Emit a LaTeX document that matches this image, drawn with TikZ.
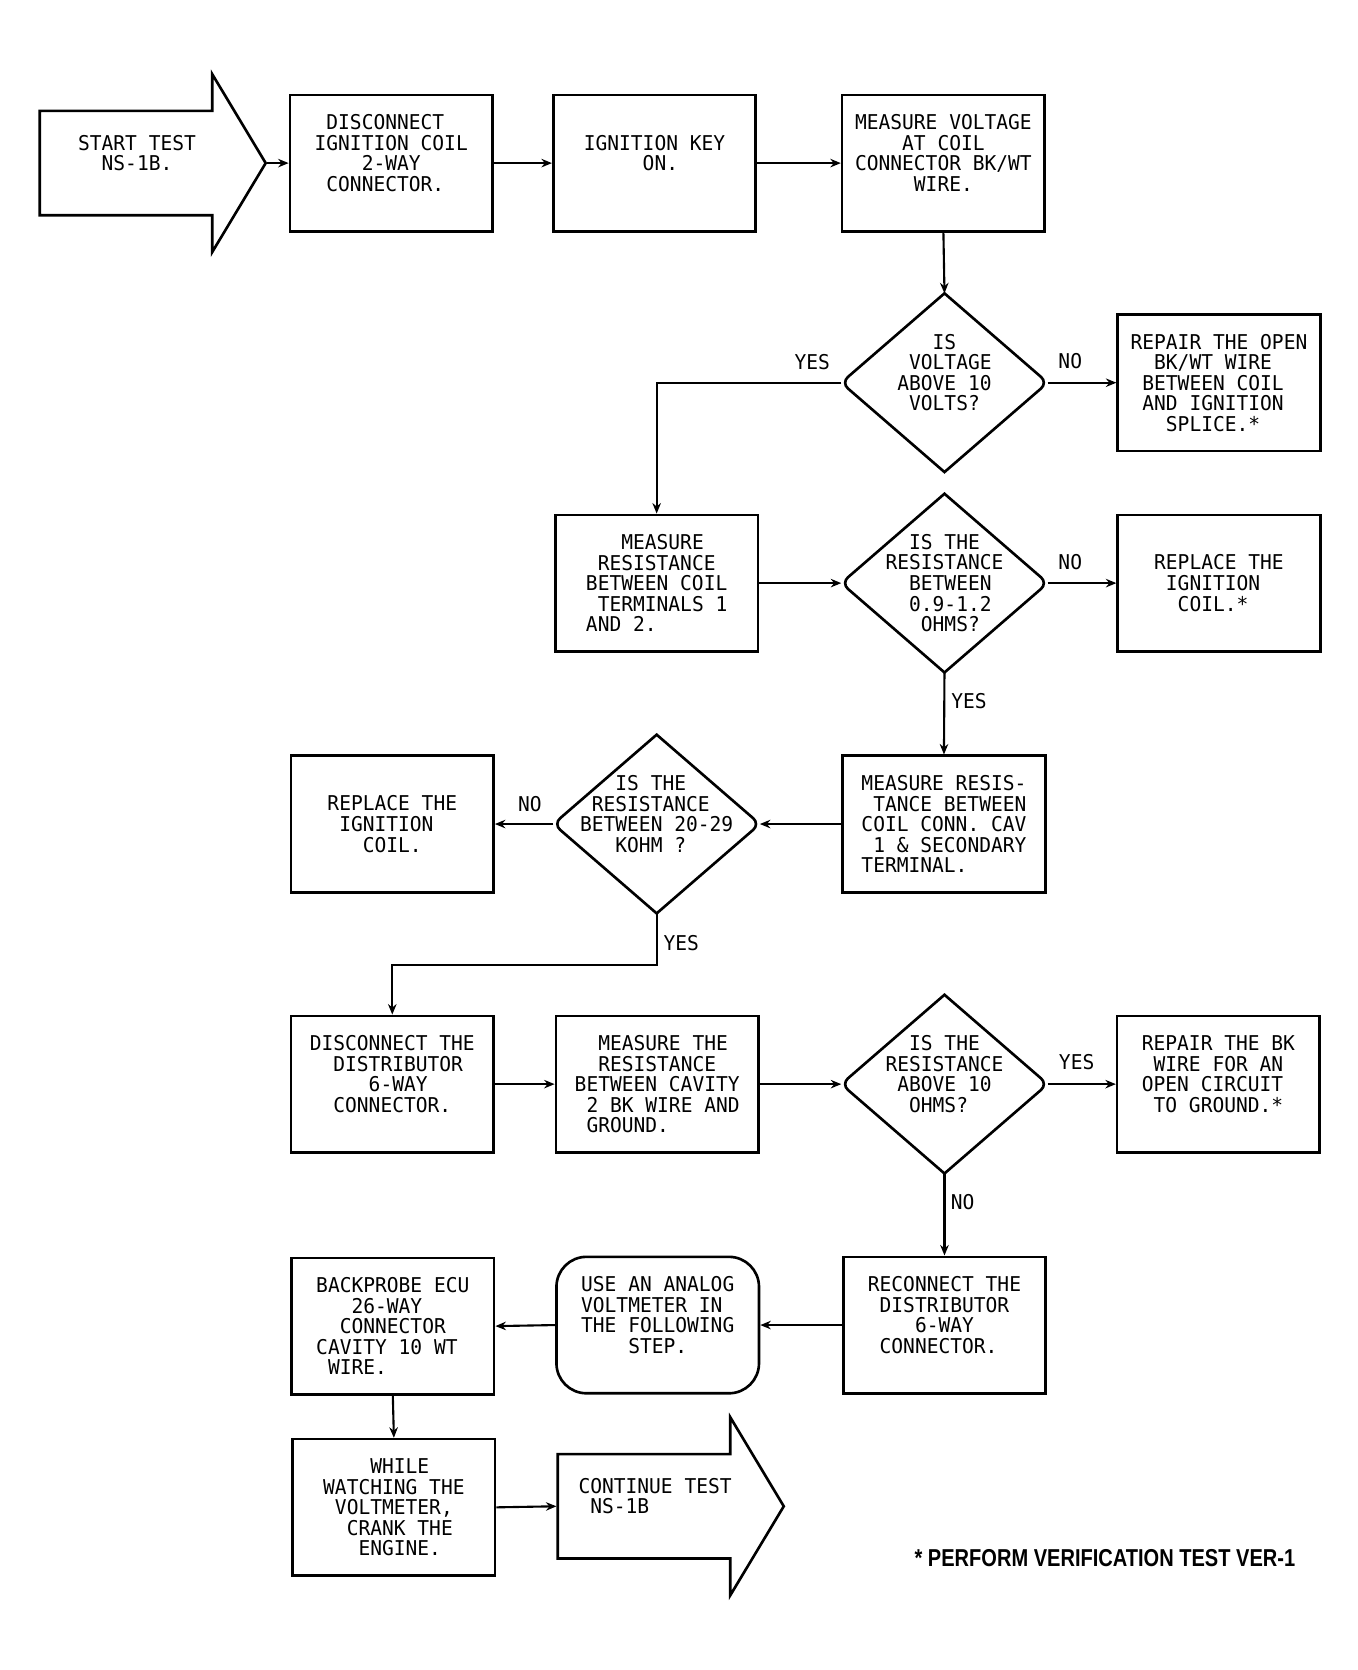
\documentclass[tikz,border=0pt]{standalone}
\usepackage{fontspec}
\usepackage{graphicx}
\usetikzlibrary{shapes.geometric,shapes.arrows,arrows.meta}
\newfontfamily\plotfont[FakeStretch=0.96]{DejaVu Sans Mono}
\newfontfamily\notefont{Liberation Sans}
\newlength{\pxu}\setlength{\pxu}{0.2132mm}

\tikzset{
  every node/.style={font=\plotfont\fontsize{11.6}{11.7}\selectfont},
  stepbox/.style={draw, line width=1.5pt, minimum width=190\pxu, minimum height=128\pxu, inner sep=0pt, align=left},
  decision/.style={diamond, minimum width=193\pxu, minimum height=167\pxu, inner sep=0pt},
  qtext/.style={align=left, inner sep=0pt},
  testarrow/.style={single arrow, draw, line width=1.5pt, minimum height=212\pxu, minimum width=167\pxu,
    single arrow head extend=19.5\pxu, single arrow tip angle=118, inner sep=0pt, align=left},
  flow/.style={line width=1.2pt, -{Stealth[length=2.1mm,width=1.7mm]}},
  answer/.style={inner sep=0pt}
}

\begin{document}
\begin{tikzpicture}[x=\pxu, y=-\pxu]
\useasboundingbox (0,0) rectangle (1273,1566.6);

	\node[testarrow, anchor=tail] (start) at (36,153) {START TEST\\~~NS-1B.\\~};
	\node[stepbox] (b1) at (367,153) {~DISCONNECT\\IGNITION COIL\\~~~~2-WAY\\~CONNECTOR.\\~};
	\node[stepbox] (b2) at (614,153) {IGNITION KEY\\~~~~~ON.\\~};
	\node[stepbox] (b3) at (885,153) {MEASURE VOLTAGE\\~~~~AT COIL\\CONNECTOR BK/WT\\~~~~~WIRE.\\~};

	\node[decision] (d1) at (886,359) {};
	\node[qtext] (d1t) at (d1) {~~~IS\\~VOLTAGE\\ABOVE 10\\~VOLTS?\\~};
	\node[stepbox] (r1) at (1143.5,359) {REPAIR THE OPEN\\~~BK/WT WIRE\\~BETWEEN COIL\\~AND IGNITION\\~~~SPLICE.*};

	\node[stepbox] (b4) at (616,547) {~~~MEASURE\\~RESISTANCE\\BETWEEN COIL\\~TERMINALS 1\\AND 2.};
	\node[decision] (d2) at (886,547) {};
	\node[qtext] (d2t) at (d2) {~~IS THE\\RESISTANCE\\~~BETWEEN\\~~0.9-1.2\\~~~OHMS?};
	\node[stepbox] (r2) at (1143.5,547) {REPLACE THE\\~IGNITION\\~~COIL.*};

	\node[stepbox] (b5) at (885.5,773) {MEASURE RESIS-\\~TANCE BETWEEN\\COIL CONN. CAV\\~1 \& SECONDARY\\TERMINAL.};
	\node[decision] (d3) at (616,773) {};
	\node[qtext] (d3t) at (d3) {~~~IS THE\\~RESISTANCE\\BETWEEN 20-29\\~~~KOHM ?\\~};
	\node[stepbox] (b6) at (368,773) {REPLACE THE\\~IGNITION\\~~~COIL.};

	\node[stepbox] (b7) at (368,1017) {DISCONNECT THE\\~~DISTRIBUTOR\\~~~~~6-WAY\\~~CONNECTOR.\\~};
	\node[stepbox] (b8) at (616.5,1017) {~~MEASURE THE\\~~RESISTANCE\\BETWEEN CAVITY\\~2 BK WIRE AND\\~GROUND.};
	\node[decision] (d4) at (886,1017) {};
	\node[qtext] (d4t) at (d4) {~~IS THE\\RESISTANCE\\~ABOVE 10\\~~OHMS?\\~};
	\node[stepbox] (r3) at (1143,1017) {REPAIR THE BK\\~WIRE FOR AN\\OPEN CIRCUIT\\~TO GROUND.*\\~};

	\node[stepbox] (b9) at (886,1243) {RECONNECT THE\\~DISTRIBUTOR\\~~~~6-WAY\\~CONNECTOR.\\~};
	\node[stepbox, rounded corners=6mm] (b10) at (617,1243) {USE AN ANALOG\\VOLTMETER IN\\THE FOLLOWING\\~~~~STEP.\\~};
	\node[stepbox] (b11) at (368.5,1244) {BACKPROBE ECU\\~~~26-WAY\\~~CONNECTOR\\CAVITY 10 WT\\~WIRE.};
	\node[stepbox] (b12) at (369.5,1414) {~~~~WHILE\\WATCHING THE\\~VOLTMETER,\\~~CRANK THE\\~~~ENGINE.};
	\node[testarrow, anchor=tail] (cont) at (522,1413) {CONTINUE TEST\\~NS-1B\\~};

	% decision outlines, pointed at top and bottom
	\foreach \d in {d1,d2,d3,d4}
	  \draw[line width=1.5pt] (\d.north) [rounded corners=5pt] -- (\d.east) [sharp corners] -- (\d.south)
	    [rounded corners=5pt] -- (\d.west) [sharp corners] -- cycle;

	\draw[flow] (start.tip) -- (b1.west);
	\draw[flow] (b1.east) -- (b2.west);
	\draw[flow] (b2.east) -- (b3.west);
	\draw[flow] (b3.south) -- (d1.north);
	\draw[flow] (d1.east) -- (r1.west);
	\draw[flow] (d1.west) -| (b4.north);
	\draw[flow] (b4.east) -- (d2.west);
	\draw[flow] (d2.east) -- (r2.west);
	\draw[flow] (d2.south) -- (b5.north);
	\draw[flow] (b5.west) -- (d3.east);
	\draw[flow] (d3.west) -- (b6.east);
	\draw[flow] (d3.south) -- ++(0,48) -| (b7.north);
	\draw[flow] (b7.east) -- (b8.west);
	\draw[flow] (b8.east) -- (d4.west);
	\draw[flow] (d4.east) -- (r3.west);
	\draw[flow] (d4.south) -- (b9.north);
	\draw[flow] (b9.west) -- (b10.east);
	\draw[flow] (b10.west) -- (b11.east);
	\draw[flow] (b11.south) -- (b12.north);
	\draw[flow] (b12.east) -- (cont.tail);

	\node[answer] (yes1) at (762,340) {YES};
	\node[answer] (no1) at (1004,339) {NO};
	\node[answer] (no2) at (1004,527) {NO};
	\node[answer] (yes2) at (909,658) {YES};
	\node[answer] (no3) at (497,754) {NO};
	\node[answer] (yes3) at (639,885) {YES};
	\node[answer] (yes4) at (1010,996) {YES};
	\node[answer] (no4) at (903,1128) {NO};

	\node[inner sep=0pt] (note) at (1036.5,1462) {\resizebox{357\pxu}{16\pxu}{\notefont\bfseries * PERFORM VERIFICATION TEST VER-1}};
\end{tikzpicture}
\end{document}
